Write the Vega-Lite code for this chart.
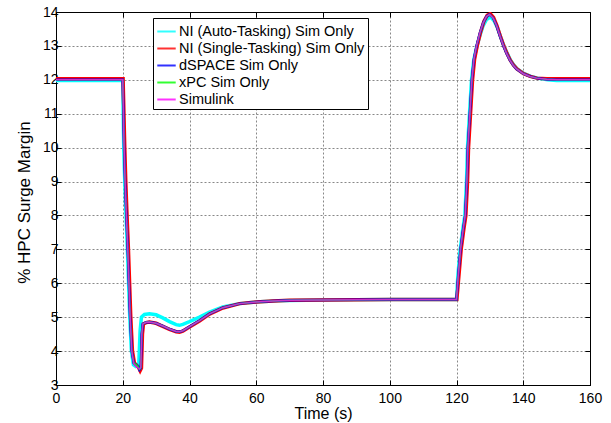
{
  "$schema": "https://vega.github.io/schema/vega-lite/v6.json",
  "width": 534,
  "height": 373,
  "autosize": {"type": "none"},
  "padding": {"left": 56, "top": 12, "right": 21, "bottom": 38},
  "background": "white",
  "config": {
    "font": "Liberation Sans",
    "view": {"stroke": "black", "strokeWidth": 1},
    "axis": {
      "domainColor": "black", "tickColor": "black", "tickSize": -5,
      "labelColor": "black", "labelFontSize": 14, "labelFont": "Liberation Sans",
      "labelFlush": false, "labelOverlap": false,
      "titleColor": "black", "titleFont": "Liberation Sans", "titleFontWeight": "normal",
      "gridColor": "#888888", "gridDash": [2, 2], "gridWidth": 1
    },
    "legend": {
      "orient": "none", "legendX": 97, "legendY": 6,
      "strokeColor": "black", "fillColor": "white", "padding": 3,
      "symbolType": "stroke", "symbolSize": 340, "symbolStrokeWidth": 2,
      "labelFontSize": 14.5, "labelFont": "Liberation Sans", "labelColor": "black",
      "rowPadding": 0, "labelOffset": 2, "labelLimit": 400, "title": null
    }
  },
  "datasets": {
    "cyan": [
      {"t":0,"v":11.98},{"t":20,"v":11.98},{"t":20.3,"v":10},{"t":20.6,"v":9},{"t":20.9,"v":8.2},{"t":21.4,"v":7},{"t":22.1,"v":5},{"t":22.6,"v":4},{"t":23.2,"v":3.6},{"t":23.9,"v":3.55},{"t":24.4,"v":3.58},{"t":24.8,"v":3.6},{"t":25.2,"v":4.6},{"t":25.6,"v":5.0},{"t":26.5,"v":5.08},{"t":28,"v":5.1},{"t":30,"v":5.07},{"t":32,"v":4.98},{"t":34,"v":4.87},{"t":36,"v":4.78},{"t":37,"v":4.76},{"t":38,"v":4.79},{"t":40,"v":4.87},{"t":43,"v":5.0},{"t":46,"v":5.15},{"t":50,"v":5.3},{"t":55,"v":5.4},{"t":60,"v":5.45},{"t":65,"v":5.48},{"t":70,"v":5.49},{"t":80,"v":5.51},{"t":100,"v":5.52},{"t":120,"v":5.52},{"t":120.4,"v":6.2},{"t":121.1,"v":7},{"t":121.9,"v":7.6},{"t":122.5,"v":8},{"t":123,"v":9},{"t":123.3,"v":10},{"t":123.9,"v":11},{"t":124.5,"v":12},{"t":125.2,"v":12.6},{"t":126,"v":12.95},{"t":127,"v":13.3},{"t":128,"v":13.6},{"t":129,"v":13.78},{"t":130.2,"v":13.85},{"t":131.2,"v":13.75},{"t":132.2,"v":13.55},{"t":133.2,"v":13.27},{"t":134.2,"v":13.0},{"t":135.2,"v":12.78},{"t":136.2,"v":12.58},{"t":137.2,"v":12.43},{"t":138.2,"v":12.32},{"t":140.3,"v":12.18},{"t":142.3,"v":12.1},{"t":144.3,"v":12.05},{"t":147.3,"v":12.0},{"t":150,"v":11.98},{"t":160,"v":11.98}
    ],
    "red": [
      {"t":0,"v":12.03},{"t":20.1,"v":12.03},{"t":20.6,"v":10},{"t":20.9,"v":9},{"t":21.2,"v":8.2},{"t":21.7,"v":7},{"t":22.4,"v":5},{"t":22.9,"v":4},{"t":23.5,"v":3.65},{"t":24.2,"v":3.58},{"t":24.8,"v":3.5},{"t":25.2,"v":3.42},{"t":25.6,"v":3.5},{"t":25.9,"v":4.5},{"t":26.2,"v":4.8},{"t":27,"v":4.84},{"t":28,"v":4.86},{"t":30,"v":4.82},{"t":32,"v":4.73},{"t":34,"v":4.64},{"t":36,"v":4.57},{"t":37,"v":4.56},{"t":38,"v":4.59},{"t":40,"v":4.71},{"t":43,"v":4.89},{"t":46,"v":5.09},{"t":50,"v":5.27},{"t":55,"v":5.4},{"t":60,"v":5.45},{"t":65,"v":5.48},{"t":70,"v":5.5},{"t":80,"v":5.51},{"t":100,"v":5.52},{"t":120.1,"v":5.52},{"t":120.7,"v":6.2},{"t":121.4,"v":7},{"t":122.2,"v":7.6},{"t":122.8,"v":8},{"t":123.3,"v":9},{"t":123.6,"v":10},{"t":124.2,"v":11},{"t":124.8,"v":12},{"t":125.4,"v":12.6},{"t":126.2,"v":13},{"t":127.2,"v":13.4},{"t":128.2,"v":13.72},{"t":129.2,"v":13.9},{"t":130.1,"v":13.95},{"t":131.1,"v":13.84},{"t":132.1,"v":13.6},{"t":133.1,"v":13.3},{"t":134.1,"v":13.02},{"t":135.1,"v":12.78},{"t":136.1,"v":12.58},{"t":137.1,"v":12.43},{"t":138.1,"v":12.32},{"t":140.1,"v":12.18},{"t":142.1,"v":12.1},{"t":144.1,"v":12.05},{"t":147.1,"v":12.03},{"t":150,"v":12.03},{"t":160,"v":12.03}
    ],
    "blue": [
      {"t":0,"v":12},{"t":20,"v":12},{"t":20.4,"v":10},{"t":20.7,"v":9},{"t":21,"v":8.2},{"t":21.5,"v":7},{"t":22.2,"v":5},{"t":22.7,"v":4},{"t":23.3,"v":3.65},{"t":24,"v":3.6},{"t":24.6,"v":3.55},{"t":25,"v":3.45},{"t":25.4,"v":3.5},{"t":25.7,"v":4.5},{"t":26,"v":4.8},{"t":27,"v":4.85},{"t":28,"v":4.86},{"t":30,"v":4.82},{"t":32,"v":4.74},{"t":34,"v":4.65},{"t":36,"v":4.58},{"t":37,"v":4.57},{"t":38,"v":4.6},{"t":40,"v":4.72},{"t":43,"v":4.9},{"t":46,"v":5.1},{"t":50,"v":5.28},{"t":55,"v":5.4},{"t":60,"v":5.45},{"t":65,"v":5.48},{"t":70,"v":5.5},{"t":80,"v":5.51},{"t":100,"v":5.52},{"t":120,"v":5.52},{"t":120.5,"v":6.2},{"t":121.2,"v":7},{"t":122,"v":7.6},{"t":122.6,"v":8},{"t":123.1,"v":9},{"t":123.4,"v":10},{"t":124,"v":11},{"t":124.6,"v":12},{"t":125.2,"v":12.6},{"t":126,"v":13},{"t":127,"v":13.38},{"t":128,"v":13.68},{"t":129,"v":13.87},{"t":129.9,"v":13.93},{"t":131,"v":13.82},{"t":132,"v":13.6},{"t":133,"v":13.3},{"t":134,"v":13.02},{"t":135,"v":12.78},{"t":136,"v":12.58},{"t":137,"v":12.43},{"t":138,"v":12.32},{"t":140,"v":12.18},{"t":142,"v":12.1},{"t":144,"v":12.05},{"t":147,"v":12.02},{"t":150,"v":12},{"t":160,"v":12}
    ],
    "green": [
      {"t":0,"v":12},{"t":20,"v":12},{"t":20.4,"v":10},{"t":20.7,"v":9},{"t":21,"v":8.2},{"t":21.5,"v":7},{"t":22.2,"v":5},{"t":22.7,"v":4},{"t":23.3,"v":3.65},{"t":24,"v":3.6},{"t":24.6,"v":3.55},{"t":25,"v":3.46},{"t":25.4,"v":3.5},{"t":25.7,"v":4.5},{"t":26,"v":4.8},{"t":27,"v":4.85},{"t":28,"v":4.86},{"t":30,"v":4.82},{"t":32,"v":4.74},{"t":34,"v":4.65},{"t":36,"v":4.58},{"t":37,"v":4.57},{"t":38,"v":4.6},{"t":40,"v":4.72},{"t":43,"v":4.9},{"t":46,"v":5.1},{"t":50,"v":5.28},{"t":55,"v":5.4},{"t":60,"v":5.45},{"t":65,"v":5.48},{"t":70,"v":5.5},{"t":80,"v":5.51},{"t":100,"v":5.52},{"t":120,"v":5.52},{"t":120.5,"v":6.2},{"t":121.2,"v":7},{"t":122,"v":7.6},{"t":122.6,"v":8},{"t":123.1,"v":9},{"t":123.4,"v":10},{"t":124,"v":11},{"t":124.6,"v":12},{"t":125.2,"v":12.6},{"t":126,"v":13},{"t":127,"v":13.38},{"t":128,"v":13.68},{"t":129,"v":13.87},{"t":129.9,"v":13.93},{"t":131,"v":13.82},{"t":132,"v":13.6},{"t":133,"v":13.3},{"t":134,"v":13.02},{"t":135,"v":12.78},{"t":136,"v":12.58},{"t":137,"v":12.43},{"t":138,"v":12.32},{"t":140,"v":12.18},{"t":142,"v":12.1},{"t":144,"v":12.05},{"t":147,"v":12.02},{"t":150,"v":12},{"t":160,"v":12}
    ],
    "magenta": [
      {"t":0,"v":12},{"t":20,"v":12},{"t":20.4,"v":10},{"t":20.7,"v":9},{"t":21,"v":8.2},{"t":21.5,"v":7},{"t":22.2,"v":5},{"t":22.7,"v":4},{"t":23.3,"v":3.62},{"t":24,"v":3.55},{"t":24.6,"v":3.5},{"t":25,"v":3.47},{"t":25.4,"v":3.52},{"t":25.7,"v":4.5},{"t":26,"v":4.8},{"t":27,"v":4.85},{"t":28,"v":4.86},{"t":30,"v":4.82},{"t":32,"v":4.74},{"t":34,"v":4.65},{"t":36,"v":4.58},{"t":37,"v":4.57},{"t":38,"v":4.6},{"t":40,"v":4.72},{"t":43,"v":4.9},{"t":46,"v":5.1},{"t":50,"v":5.28},{"t":55,"v":5.4},{"t":60,"v":5.45},{"t":65,"v":5.48},{"t":70,"v":5.5},{"t":80,"v":5.51},{"t":100,"v":5.52},{"t":120,"v":5.52},{"t":120.5,"v":6.2},{"t":121.2,"v":7},{"t":122,"v":7.6},{"t":122.6,"v":8},{"t":123.1,"v":9},{"t":123.4,"v":10},{"t":124,"v":11},{"t":124.6,"v":12},{"t":125.2,"v":12.6},{"t":126,"v":13},{"t":127,"v":13.38},{"t":128,"v":13.68},{"t":129,"v":13.87},{"t":129.9,"v":13.93},{"t":131,"v":13.82},{"t":132,"v":13.6},{"t":133,"v":13.3},{"t":134,"v":13.02},{"t":135,"v":12.78},{"t":136,"v":12.58},{"t":137,"v":12.43},{"t":138,"v":12.32},{"t":140,"v":12.18},{"t":142,"v":12.1},{"t":144,"v":12.05},{"t":147,"v":12.02},{"t":150,"v":12},{"t":160,"v":12}
    ]
  },
  "layer": [
    {
      "data": {"name": "cyan"},
      "mark": {"type": "line", "strokeWidth": 3.5, "clip": true},
      "encoding": {
        "x": {"field": "t", "type": "quantitative", "scale": {"domain": [0, 160], "nice": false, "zero": false},
              "axis": {"orient": "bottom", "values": [0,20,40,60,80,100,120,140,160], "title": "Time (s)", "titleFontSize": 16, "labelPadding": 11, "titleBaseline": "alphabetic", "titleY": 33, "grid": true}},
        "y": {"field": "v", "type": "quantitative", "scale": {"domain": [3, 14], "nice": false, "zero": false},
              "axis": {"orient": "left", "values": [3,4,5,6,7,8,9,10,11,12,13,14], "title": "% HPC Surge Margin", "titleFontSize": 17, "labelPadding": 3, "titleX": -32, "titleY": 190, "titleBaseline": "middle", "titleAngle": -90, "grid": true}},
        "color": {"datum": "NI (Auto-Tasking) Sim Only", "type": "nominal",
                  "scale": {"domain": ["NI (Auto-Tasking) Sim Only", "NI (Single-Tasking) Sim Only", "dSPACE Sim Only", "xPC Sim Only", "Simulink"],
                            "range": ["#00FFFF", "#FF0000", "#0000FF", "#00FF00", "#FF00FF"]}}
      }
    },
    {
      "data": {"name": "red"},
      "mark": {"type": "line", "strokeWidth": 3.5, "clip": true},
      "encoding": {
        "x": {"field": "t", "type": "quantitative", "axis": null},
        "y": {"field": "v", "type": "quantitative", "axis": null},
        "color": {"datum": "NI (Single-Tasking) Sim Only", "type": "nominal"}
      }
    },
    {
      "data": {"name": "blue"},
      "mark": {"type": "line", "strokeWidth": 2.5, "clip": true},
      "encoding": {
        "x": {"field": "t", "type": "quantitative", "axis": null},
        "y": {"field": "v", "type": "quantitative", "axis": null},
        "color": {"datum": "dSPACE Sim Only", "type": "nominal"}
      }
    },
    {
      "data": {"name": "green"},
      "mark": {"type": "line", "strokeWidth": 1.5, "clip": true},
      "encoding": {
        "x": {"field": "t", "type": "quantitative", "axis": null},
        "y": {"field": "v", "type": "quantitative", "axis": null},
        "color": {"datum": "xPC Sim Only", "type": "nominal"}
      }
    },
    {
      "data": {"name": "magenta"},
      "mark": {"type": "line", "strokeWidth": 1.5, "clip": true, "opacity": 0.8},
      "encoding": {
        "x": {"field": "t", "type": "quantitative", "axis": null},
        "y": {"field": "v", "type": "quantitative", "axis": null},
        "color": {"datum": "Simulink", "type": "nominal"}
      }
    },
    {
      "data": {"name": "blue"},
      "mark": {"type": "line", "opacity": 0},
      "encoding": {
        "x": {"field": "t", "type": "quantitative",
              "axis": {"orient": "top", "values": [0,20,40,60,80,100,120,140,160], "labels": false, "title": null, "grid": false}},
        "y": {"field": "v", "type": "quantitative",
              "axis": {"orient": "right", "values": [3,4,5,6,7,8,9,10,11,12,13,14], "labels": false, "title": null, "grid": false}}
      }
    }
  ],
  "resolve": {"axis": {"x": "independent", "y": "independent"}}
}
